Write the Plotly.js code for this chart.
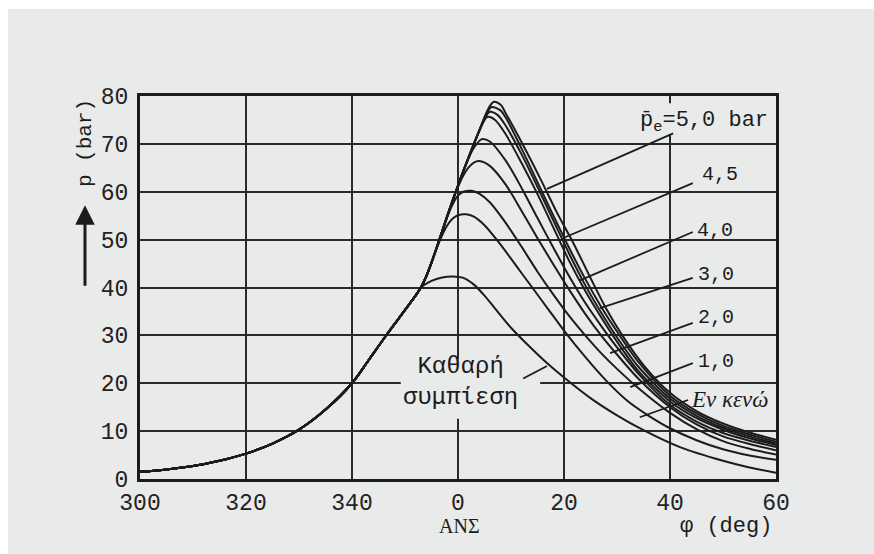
<!DOCTYPE html>
<html>
<head>
<meta charset="utf-8">
<script src="https://cdn.plot.ly/plotly-3.0.1.min.js"></script>
<style>
  html, body { margin:0; padding:0; background:#ffffff; }
  #chart { position:absolute; left:8px; top:9px; width:866px; height:545px; }
</style>
</head>
<body>
<div id="chart"></div>
<script>
// ---- crank angle ticks ----
const tickVals = [300, 320, 340, 360, 380, 400, 420];
const tickText = ['300', '320', '340', '0', '20', '40', '60'];
const yTicks = [0, 10, 20, 30, 40, 50, 60, 70, 80];

// ---- common compression part (all curves) ----
const compX = [300, 305, 310, 315, 320, 325, 330, 335, 340, 343, 346, 349, 351, 352, 353];
const compP = [1.5, 2.0, 2.7, 3.8, 5.3, 7.4, 10.3, 14.5, 20, 24.6, 29.3, 33.8, 36.8, 38.3, 40.0];

// ---- motoring (Καθαρή συμπίεση) ----
const motX = [355, 357, 359, 361, 363, 365, 367, 370, 373, 377, 380, 385, 390, 395, 402, 410, 415, 420];
const motP = [41.4, 42.1, 42.3, 42.0, 40.6, 38.3, 35.6, 31.6, 28.2, 24.0, 21.2, 16.9, 13.3, 10.2, 6.6, 3.8, 2.4, 1.3];

// ---- idle (Εν κενώ) ----
const idleX = [354, 355, 356, 357, 358, 359, 360, 361.5, 363, 365, 368, 371, 374, 377, 380, 384, 388, 392, 396, 400, 405, 410, 415, 420];
const idleP = [42.3, 45.2, 48.2, 50.9, 53.0, 54.4, 55.1, 55.3, 54.8, 53.0, 49.0, 44.5, 40.0, 35.5, 31.0, 25.5, 20.5, 16.3, 13.2, 10.6, 8.1, 6.2, 4.9, 4.0];

// ---- pe = 1,0 bar ----
const p10X = [354, 355, 356, 357, 358, 359, 360, 361, 362.6, 364, 366, 369, 372, 375, 378, 381, 384, 387, 390, 394, 400, 405, 410, 415, 420];
const p10P = [42.3, 45.2, 48.4, 51.7, 54.8, 57.4, 59.2, 60.0, 60.2, 59.6, 57.8, 53.5, 48.5, 43.3, 38.5, 34.0, 30.0, 26.3, 23.0, 19.0, 13.8, 10.4, 7.9, 6.3, 5.1];

// ---- pe = 2,0 bar ----
const p20X = [354, 355, 356, 357, 358, 359, 360, 361, 362, 363, 364, 366, 369, 372, 375, 378, 381, 384, 387, 390, 394, 400, 405, 410, 415, 420];
const p20P = [42.3, 45.2, 48.4, 51.7, 55.0, 58.2, 61.0, 63.4, 65.1, 66.1, 66.4, 65.4, 61.5, 56.0, 50.3, 44.8, 39.5, 34.5, 30.0, 26.0, 21.0, 15.0, 11.4, 8.9, 7.3, 6.0];

// ---- pe = 3,0 bar ----
const p30X = [354, 355, 356, 357, 358, 359, 360, 361, 362, 363, 364.5, 366, 369, 372, 375, 378, 381, 384, 387, 390, 394, 400, 405, 410, 415, 420];
const p30P = [42.3, 45.2, 48.4, 51.7, 55.0, 58.2, 61.3, 64.3, 67.0, 69.2, 71.0, 70.5, 66.5, 60.8, 54.5, 48.3, 42.3, 36.8, 32.0, 27.5, 22.0, 15.5, 12.0, 9.6, 8.0, 6.7];

// ---- unlabelled curve (between 3,0 and 4,0) ----
const p35X = [354, 355, 356, 357, 358, 359, 360, 361, 362, 363, 364, 365.5, 367, 369, 372, 375, 378, 381, 384, 387, 390, 394, 400, 405, 410, 415, 420];
const p35P = [42.3, 45.2, 48.4, 51.7, 55.0, 58.2, 61.3, 64.3, 67.2, 70.0, 72.7, 75.6, 75.0, 72.0, 66.0, 59.5, 52.5, 45.5, 39.3, 33.8, 28.7, 22.6, 16.2, 12.7, 10.3, 8.5, 7.1];

// ---- pe = 4,0 bar ----
const p40X = [354, 355, 356, 357, 358, 359, 360, 361, 362, 363, 364, 365, 366, 367.5, 369, 372, 375, 378, 381, 384, 387, 390, 394, 400, 405, 410, 415, 420];
const p40P = [42.3, 45.2, 48.4, 51.7, 55.0, 58.2, 61.3, 64.3, 67.2, 70.0, 72.7, 75.2, 76.7, 76.0, 73.8, 67.8, 61.0, 54.0, 47.0, 40.5, 34.8, 29.6, 23.5, 16.8, 13.2, 10.7, 8.9, 7.4];

// ---- pe = 4,5 bar ----
const p45X = [354, 355, 356, 357, 358, 359, 360, 361, 362, 363, 364, 365, 366.3, 368, 369, 372, 375, 378, 381, 384, 387, 390, 394, 400, 405, 410, 415, 420];
const p45P = [42.3, 45.2, 48.4, 51.7, 55.0, 58.2, 61.3, 64.3, 67.2, 70.0, 72.7, 75.4, 77.7, 77.0, 75.5, 69.0, 62.0, 55.0, 48.2, 41.8, 36.0, 30.8, 24.5, 17.4, 13.7, 11.1, 9.3, 7.8];

// ---- pe = 5,0 bar ----
const p50X = [354, 355, 356, 357, 358, 359, 360, 361, 362, 363, 364, 365, 366, 366.8, 368, 369.2, 372.3, 375.5, 378.6, 381.8, 385, 388, 391, 395, 400, 405, 410, 415, 420];
const p50P = [42.3, 45.2, 48.4, 51.7, 55.0, 58.2, 61.3, 64.3, 67.2, 70.0, 72.7, 75.6, 77.9, 78.8, 78.2, 76.0, 69.7, 62.8, 55.8, 49.2, 42.0, 35.5, 30.0, 23.8, 18.0, 14.2, 11.6, 9.7, 8.2];

// ---- curve labels: text, label position, pointer tail, pointer head ----
const labelText = ['p\u0304<sub>e</sub>=5,0 bar', '4,5', '4,0', '3,0', '2,0', '1,0', 'Εν κενώ', 'Καθαρή<br>συμπίεση'];
const labelX    = [418.9, 409.4, 408.5, 408.7, 408.7, 408.7, 411.3, 360.5];
const labelY    = [74.5, 63.5, 52.0, 42.7, 33.8, 24.6, 16.7, 20.2];
const tailX     = [400.6, 404.3, 404.3, 404.3, 404.3, 404.3, 403.4, 372.3];
const tailY     = [72.2, 61.8, 51.6, 42.0, 32.6, 24.2, 16.5, 21.0];
const headX     = [376.8, 380.2, 383.0, 386.8, 388.7, 392.5, 394.3, 376.8];
const headY     = [60.6, 50.5, 41.5, 35.7, 26.3, 19.2, 12.9, 23.6];

const ink = '#1c1c1c';
const paper = '#e9eaea';
const mono = 'Liberation Mono, Courier New, monospace';

const curves = [
  [motX, motP], [idleX, idleP], [p10X, p10P], [p20X, p20P], [p30X, p30P],
  [p35X, p35P], [p40X, p40P], [p45X, p45P], [p50X, p50P]
];

const traces = curves.map(function (c) {
  return {
    x: compX.concat(c[0]),
    y: compP.concat(c[1]),
    type: 'scatter',
    mode: 'lines',
    line: { color: ink, width: 2, shape: 'spline', smoothing: 0.8 },
    hoverinfo: 'skip',
    showlegend: false
  };
});

const annotations = [];
const shapes = [];

// label boxes that interrupt the grid
shapes.push({ type: 'rect', xref: 'x', yref: 'y', layer: 'between',
  x0: 392.0, x1: 418.9, y0: 72.0, y1: 78.5, fillcolor: paper, line: { width: 0 } });
shapes.push({ type: 'rect', xref: 'x', yref: 'y', layer: 'between',
  x0: 349.2, x1: 375.5, y0: 12.6, y1: 25.0, fillcolor: paper, line: { width: 0 } });

for (let i = 0; i < labelText.length; i++) {
  const isTop = i === 0;
  annotations.push({
    x: labelX[i], y: labelY[i], xref: 'x', yref: 'y',
    text: labelText[i], showarrow: false,
    xanchor: isTop ? 'right' : 'center', yanchor: 'middle',
    font: {
      family: i === 6 ? 'Liberation Serif, serif' : mono,
      size: isTop ? 22 : (i === 7 ? 24 : (i === 6 ? 23 : 20)),
      color: ink,
      style: i === 6 ? 'italic' : 'normal'
    }
  });
  shapes.push({
    type: 'line', xref: 'x', yref: 'y', layer: 'above',
    x0: tailX[i], y0: tailY[i], x1: headX[i], y1: headY[i],
    line: { color: ink, width: 1.8 }
  });
}

// axis titles (paper coordinates, outside the plotting area)
annotations.push({ x: -0.0865, y: 0.877, xref: 'paper', yref: 'paper', text: 'p (bar)', textangle: -90,
  xanchor: 'center', yanchor: 'middle',
  showarrow: false, font: { family: mono, size: 21, color: ink } });
annotations.push({ x: -0.0865, y: 0.715, xref: 'paper', yref: 'paper', ax: 0, ay: 82,
  text: '', showarrow: true, arrowhead: 2, arrowsize: 1.3, arrowwidth: 3, arrowcolor: ink });
annotations.push({ x: 0.503, y: -0.124, xref: 'paper', yref: 'paper', text: 'ΑΝΣ', showarrow: false,
  xanchor: 'center', yanchor: 'middle',
  font: { family: 'Liberation Serif, serif', size: 20, color: ink } });
annotations.push({ x: 0.997, y: -0.124, xref: 'paper', yref: 'paper', text: 'φ (deg)', showarrow: false,
  xanchor: 'right', yanchor: 'middle', font: { family: mono, size: 22, color: ink } });

const axisCommon = {
  showgrid: true, gridcolor: '#2a2a2a', gridwidth: 2,
  showline: true, linecolor: ink, linewidth: 3, mirror: true,
  zeroline: false, ticks: '',
  tickfont: { family: mono, size: 23, color: '#222' },
  fixedrange: true
};

const layout = {
  width: 866, height: 545,
  margin: { l: 132, r: 98, t: 87, b: 75, pad: 0 },
  paper_bgcolor: paper, plot_bgcolor: paper,
  showlegend: false,
  xaxis: Object.assign({}, axisCommon, {
    range: [300, 420], tickmode: 'array', tickvals: tickVals, ticktext: tickText,
    ticklabelstandoff: 0
  }),
  yaxis: Object.assign({}, axisCommon, {
    range: [0, 80], tickmode: 'array', tickvals: yTicks,
    ticklabelstandoff: 4
  }),
  annotations: annotations,
  shapes: shapes
};

Plotly.newPlot('chart', traces, layout, { displayModeBar: false, staticPlot: true });
</script>
</body>
</html>
